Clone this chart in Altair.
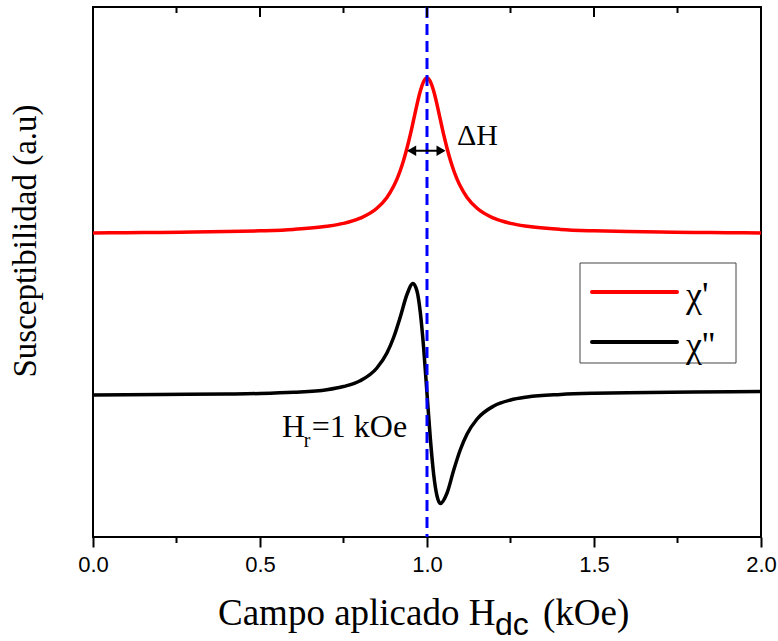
import altair as alt
import pandas as pd

# Applied DC field (kOe) and the two susceptibility components (arbitrary units)
field_real = [0.0, 0.1, 0.2, 0.3, 0.4, 0.5, 0.6, 0.7, 0.75, 0.8, 0.85, 0.88, 0.9,
              0.91, 0.92, 0.93, 0.94, 0.95, 0.96, 0.97, 0.98, 0.99, 1.0,
              1.01, 1.02, 1.03, 1.04, 1.05, 1.06, 1.07, 1.08, 1.09, 1.1,
              1.12, 1.15, 1.2, 1.25, 1.3, 1.4, 1.5, 1.6, 1.7, 1.8, 1.9, 2.0]
chi_real = [3.04, 3.043, 3.046, 3.049, 3.054, 3.062, 3.076, 3.107, 3.136, 3.188, 3.287, 3.396, 3.507,
            3.579, 3.665, 3.767, 3.887, 4.023, 4.173, 4.324, 4.459, 4.555, 4.59,
            4.555, 4.459, 4.324, 4.173, 4.023, 3.887, 3.767, 3.665, 3.579, 3.507,
            3.396, 3.287, 3.188, 3.136, 3.107, 3.076, 3.062, 3.054, 3.049, 3.046, 3.043, 3.04]

field_imag = [0.0, 0.2, 0.4, 0.5, 0.6, 0.7, 0.75, 0.8, 0.85, 0.88,
              0.9, 0.92, 0.94, 0.958, 0.97, 0.98, 0.99, 1.0,
              1.01, 1.02, 1.03, 1.04, 1.06, 1.08, 1.1, 1.12, 1.15, 1.2,
              1.25, 1.3, 1.4, 1.5, 1.6, 1.8, 2.0]
chi_imag = [1.42, 1.425, 1.43, 1.435, 1.447, 1.473, 1.505, 1.562, 1.69, 1.84,
            1.995, 2.20, 2.425, 2.535, 2.46, 2.245, 1.89, 1.435,
            0.985, 0.625, 0.41, 0.335, 0.44, 0.67, 0.875, 1.03, 1.18, 1.31,
            1.37, 1.40, 1.425, 1.437, 1.443, 1.45, 1.455]

major_ticks = [0.0, 0.5, 1.0, 1.5, 2.0]
minor_ticks = [0.25, 0.75, 1.25, 1.75]
resonance_field = 1.0

# Linewidth marker (FWHM) of the absorption peak
fwhm_left, fwhm_right, fwhm_level = 0.938, 1.058, 3.863

legend_labels = ["\u03c7'", "\u03c7''"]
legend_colors = ["#ff0000", "#000000"]

W, H = 668, 530
SERIF = "Liberation Serif"
SANS = "Liberation Sans"

xs = alt.Scale(domain=[0, 2], nice=False, zero=False)
ys = alt.Scale(domain=[0, 5.3], nice=False, zero=False)
x_axis = alt.Axis(values=major_ticks, format=".1f", title=None, domain=False, grid=False,
                  tickSize=10, tickWidth=2, tickColor="black",
                  labelFont=SANS, labelFontSize=22, labelColor="black",
                  labelPadding=7, labelFlush=False, labelOverlap=False)


def xenc(field="H"):
    return alt.X(f"{field}:Q", scale=xs, axis=x_axis)


def yenc(field):
    return alt.Y(f"{field}:Q", scale=ys, axis=None)


real_df = pd.DataFrame({"H": field_real, "chi": chi_real})
imag_df = pd.DataFrame({"H": field_imag, "chi": chi_imag})

red = alt.Chart(real_df).mark_line(color="#ff0000", strokeWidth=3.5, interpolate="monotone").encode(
    x=xenc(), y=yenc("chi"))
black = alt.Chart(imag_df).mark_line(color="#000000", strokeWidth=3.5, interpolate="monotone").encode(
    x=xenc(), y=yenc("chi"))

dashed = alt.Chart(pd.DataFrame({"H": [resonance_field]})).mark_rule(
    color="#0000ff", strokeWidth=3, strokeDash=[11, 6]).encode(x=xenc())

# Minor ticks below the bottom edge, inward ticks along the top edge
minor_bottom = alt.Chart(pd.DataFrame({"H": minor_ticks})).mark_rule(color="black", strokeWidth=2).encode(
    x=xenc(), y=alt.value(H), y2=alt.value(H + 6))
top_major = alt.Chart(pd.DataFrame({"H": major_ticks[1:-1]})).mark_rule(color="black", strokeWidth=2).encode(
    x=xenc(), y=alt.value(0), y2=alt.value(10))
top_minor = alt.Chart(pd.DataFrame({"H": minor_ticks})).mark_rule(color="black", strokeWidth=2).encode(
    x=xenc(), y=alt.value(0), y2=alt.value(6))

# Double-headed arrow marking the linewidth
arrow_df = pd.DataFrame({"H": [fwhm_left + 0.008], "H2": [fwhm_right - 0.008], "y": [fwhm_level]})
arrow_line = alt.Chart(arrow_df).mark_rule(color="black", strokeWidth=2).encode(
    x=xenc(), x2="H2:Q", y=yenc("y"))
heads_df = pd.DataFrame({"H": [fwhm_left + 0.016, fwhm_right - 0.016], "y": [fwhm_level] * 2,
                         "shape": ["triangle-left", "triangle-right"]})
arrow_heads = alt.Chart(heads_df).mark_point(filled=True, color="black", opacity=1, size=110).encode(
    x=xenc(), y=yenc("y"), shape=alt.Shape("shape:N", scale=None, legend=None))


def label(text, h, y, size, font=SERIF):
    df = pd.DataFrame({"H": [h], "y": [y], "t": [text]})
    return alt.Chart(df).mark_text(font=font, fontSize=size, align="left", baseline="alphabetic",
                                   color="black").encode(x=xenc(), y=yenc("y"), text="t:N")


delta_h = label("\u0394H", 1.090, 3.92, 30)
hr_main = label("H", 0.566, 1.00, 32)
hr_sub = label("r", 0.631, 0.90, 20)
hr_rest = label("=1 kOe", 0.655, 1.00, 32)


def pixel_text(text, px, py, size, font=SERIF, angle=0, align="left"):
    df = pd.DataFrame({"t": [text]})
    kw = dict(font=font, fontSize=size, align=align, baseline="alphabetic", color="black")
    if angle:
        kw["angle"] = angle
    return alt.Chart(df).mark_text(**kw).encode(x=alt.value(px), y=alt.value(py), text="t:N")


# Axis titles (x title has a subscripted "dc")
xt1 = pixel_text("Campo aplicado H", 125, 618, 37)
xt2 = pixel_text("dc", 402, 628, 32, font=SANS)
xt3 = pixel_text("(kOe)", 450, 618, 37)
yt = pixel_text("Susceptibilidad (a.u)", -57, 234, 33, angle=270, align="center")

# Legend
legend_layers = [
    alt.Chart(pd.DataFrame({"k": [0]})).mark_rect(fill="white", stroke="#444444", strokeWidth=1).encode(
        x=alt.value(487), x2=alt.value(643), y=alt.value(256), y2=alt.value(356))
]
for i, (lab, col) in enumerate(zip(legend_labels, legend_colors)):
    ly = 285 + 50 * i
    legend_layers.append(
        alt.Chart(pd.DataFrame({"k": [i]})).mark_rule(color=col, strokeWidth=4, strokeCap="round").encode(
            x=alt.value(499), x2=alt.value(584), y=alt.value(ly)))
    legend_layers.append(pixel_text(lab, 593, ly + 15, 36))

chart = alt.layer(
    red, black, dashed, minor_bottom, top_major, top_minor,
    arrow_line, arrow_heads, delta_h, hr_main, hr_sub, hr_rest,
    xt1, xt2, xt3, yt, *legend_layers
).properties(
    width=W, height=H,
    padding={"left": 93, "top": 7, "right": 778 - 93 - W, "bottom": 641 - 7 - H},
    autosize=alt.AutoSizeParams(type="none"),
    background="white",
).configure_view(
    stroke="black", strokeWidth=2
).configure_axisX(
    labelFont=SANS, labelFontSize=22, labelColor="black"
)

chart.save("out.html", embed_options={"renderer": "svg", "actions": False})
